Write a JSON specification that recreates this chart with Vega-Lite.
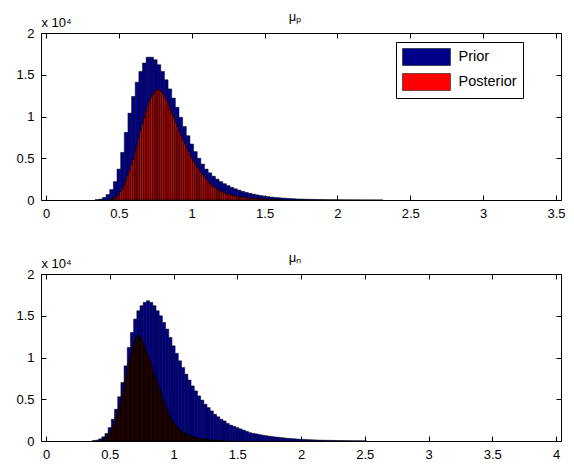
{
  "$schema": "https://vega.github.io/schema/vega-lite/v6.json",
  "background": "white",
  "padding": {"left": 15, "top": 10, "right": 0, "bottom": 0},
  "config": {
    "font": "Liberation Sans",
    "view": {"stroke": "black", "strokeWidth": 1},
    "axis": {"domain": false, "grid": false, "tickColor": "black", "tickSize": -5, "tickWidth": 1, "labelColor": "black", "labelFont": "Liberation Sans", "labelFontSize": 13, "labelFlush": false, "labelOverlap": false, "labelPadding": 12, "format": "~g"},
    "axisX": {"labelPadding": 12},
    "title": {"font": "Liberation Sans", "fontSize": 13, "fontWeight": "normal", "color": "black", "baseline": "alphabetic", "offset": -8, "dx": -6},
    "concat": {"spacing": 30}
  },
  "datasets": {
    "tp": [
      {"x":0.35,"n":40},{"x":0.375,"n":100},{"x":0.4,"n":300},{"x":0.425,"n":650},{"x":0.45,"n":1250},{"x":0.475,"n":2200},{"x":0.5,"n":3700},{"x":0.525,"n":5700},{"x":0.55,"n":8100},{"x":0.575,"n":10400},{"x":0.6,"n":12400},{"x":0.625,"n":14100},{"x":0.65,"n":15400},{"x":0.675,"n":16400},{"x":0.7,"n":17100},{"x":0.725,"n":17100},{"x":0.75,"n":16800},{"x":0.775,"n":16200},{"x":0.8,"n":15400},{"x":0.825,"n":14400},{"x":0.85,"n":13300},{"x":0.875,"n":12200},{"x":0.9,"n":11100},{"x":0.925,"n":9900},{"x":0.95,"n":8800},{"x":0.975,"n":7700},{"x":1.0,"n":6700},{"x":1.025,"n":5800},{"x":1.05,"n":5000},{"x":1.075,"n":4300},{"x":1.1,"n":3700},{"x":1.125,"n":3250},{"x":1.15,"n":2850},{"x":1.175,"n":2500},{"x":1.2,"n":2200},{"x":1.225,"n":1950},{"x":1.25,"n":1720},{"x":1.275,"n":1520},{"x":1.3,"n":1340},{"x":1.325,"n":1180},{"x":1.35,"n":1040},{"x":1.375,"n":910},{"x":1.4,"n":800},{"x":1.425,"n":700},{"x":1.45,"n":610},{"x":1.475,"n":530},{"x":1.5,"n":460},{"x":1.525,"n":400},{"x":1.55,"n":350},{"x":1.575,"n":305},{"x":1.6,"n":265},{"x":1.625,"n":230},{"x":1.65,"n":200},{"x":1.675,"n":175},{"x":1.7,"n":152},{"x":1.725,"n":132},{"x":1.75,"n":115},{"x":1.775,"n":100},{"x":1.8,"n":87},{"x":1.825,"n":76},{"x":1.85,"n":66},{"x":1.875,"n":57},{"x":1.9,"n":50},{"x":1.925,"n":43},{"x":1.95,"n":37},{"x":1.975,"n":32},{"x":2.0,"n":28},{"x":2.025,"n":24},{"x":2.05,"n":21},{"x":2.075,"n":18},{"x":2.1,"n":16},{"x":2.125,"n":14},{"x":2.15,"n":12},{"x":2.175,"n":10},{"x":2.2,"n":9},{"x":2.225,"n":8},{"x":2.25,"n":7},{"x":2.275,"n":6},{"x":2.3,"n":5}
    ],
    "tq": [
      {"x":0.45,"n":80},{"x":0.4625,"n":150},{"x":0.475,"n":280},{"x":0.4875,"n":450},{"x":0.5,"n":700},{"x":0.5125,"n":1000},{"x":0.525,"n":1350},{"x":0.5375,"n":1800},{"x":0.55,"n":2300},{"x":0.5625,"n":2900},{"x":0.575,"n":3500},{"x":0.5875,"n":4200},{"x":0.6,"n":4900},{"x":0.6125,"n":5700},{"x":0.625,"n":6500},{"x":0.6375,"n":7400},{"x":0.65,"n":8300},{"x":0.6625,"n":9100},{"x":0.675,"n":9900},{"x":0.6875,"n":10600},{"x":0.7,"n":11200},{"x":0.7125,"n":11800},{"x":0.725,"n":12300},{"x":0.7375,"n":12700},{"x":0.75,"n":13000},{"x":0.7625,"n":13200},{"x":0.775,"n":13200},{"x":0.7875,"n":13000},{"x":0.8,"n":12700},{"x":0.8125,"n":12300},{"x":0.825,"n":11900},{"x":0.8375,"n":11400},{"x":0.85,"n":10900},{"x":0.8625,"n":10400},{"x":0.875,"n":9900},{"x":0.8875,"n":9300},{"x":0.9,"n":8800},{"x":0.9125,"n":8200},{"x":0.925,"n":7700},{"x":0.9375,"n":7200},{"x":0.95,"n":6700},{"x":0.9625,"n":6200},{"x":0.975,"n":5800},{"x":0.9875,"n":5400},{"x":1.0,"n":5000},{"x":1.0125,"n":4600},{"x":1.025,"n":4250},{"x":1.0375,"n":3900},{"x":1.05,"n":3600},{"x":1.0625,"n":3300},{"x":1.075,"n":3000},{"x":1.0875,"n":2700},{"x":1.1,"n":2450},{"x":1.1125,"n":2200},{"x":1.125,"n":1980},{"x":1.1375,"n":1780},{"x":1.15,"n":1600},{"x":1.1625,"n":1440},{"x":1.175,"n":1300},{"x":1.1875,"n":1170},{"x":1.2,"n":1050},{"x":1.2125,"n":950},{"x":1.225,"n":860},{"x":1.2375,"n":780},{"x":1.25,"n":710},{"x":1.2625,"n":645},{"x":1.275,"n":585},{"x":1.2875,"n":530},{"x":1.3,"n":480},{"x":1.3125,"n":435},{"x":1.325,"n":395},{"x":1.3375,"n":360},{"x":1.35,"n":325},{"x":1.3625,"n":295},{"x":1.375,"n":268},{"x":1.3875,"n":243},{"x":1.4,"n":220},{"x":1.4125,"n":200},{"x":1.425,"n":182},{"x":1.4375,"n":165},{"x":1.45,"n":150},{"x":1.4625,"n":136},{"x":1.475,"n":124},{"x":1.4875,"n":112},{"x":1.5,"n":102},{"x":1.5125,"n":93},{"x":1.525,"n":84},{"x":1.5375,"n":76},{"x":1.55,"n":69},{"x":1.5625,"n":63},{"x":1.575,"n":57},{"x":1.5875,"n":52},{"x":1.6,"n":47}
    ],
    "bp": [
      {"x":0.375,"n":50},{"x":0.4,"n":100},{"x":0.425,"n":250},{"x":0.45,"n":500},{"x":0.475,"n":900},{"x":0.5,"n":1600},{"x":0.525,"n":2600},{"x":0.55,"n":3800},{"x":0.575,"n":5300},{"x":0.6,"n":7000},{"x":0.625,"n":9000},{"x":0.65,"n":11200},{"x":0.675,"n":13000},{"x":0.7,"n":14600},{"x":0.725,"n":15600},{"x":0.75,"n":16200},{"x":0.775,"n":16600},{"x":0.8,"n":16800},{"x":0.825,"n":16600},{"x":0.85,"n":16200},{"x":0.875,"n":15600},{"x":0.9,"n":15000},{"x":0.925,"n":14200},{"x":0.95,"n":13400},{"x":0.975,"n":12400},{"x":1.0,"n":11400},{"x":1.025,"n":10500},{"x":1.05,"n":9600},{"x":1.075,"n":8800},{"x":1.1,"n":8000},{"x":1.125,"n":7300},{"x":1.15,"n":6600},{"x":1.175,"n":6000},{"x":1.2,"n":5400},{"x":1.225,"n":4900},{"x":1.25,"n":4400},{"x":1.275,"n":4000},{"x":1.3,"n":3600},{"x":1.325,"n":3200},{"x":1.35,"n":2900},{"x":1.375,"n":2600},{"x":1.4,"n":2400},{"x":1.425,"n":2100},{"x":1.45,"n":1900},{"x":1.475,"n":1750},{"x":1.5,"n":1600},{"x":1.525,"n":1450},{"x":1.55,"n":1300},{"x":1.575,"n":1150},{"x":1.6,"n":1000},{"x":1.625,"n":920},{"x":1.65,"n":850},{"x":1.675,"n":770},{"x":1.7,"n":700},{"x":1.725,"n":640},{"x":1.75,"n":580},{"x":1.775,"n":530},{"x":1.8,"n":480},{"x":1.825,"n":440},{"x":1.85,"n":400},{"x":1.875,"n":360},{"x":1.9,"n":320},{"x":1.925,"n":290},{"x":1.95,"n":260},{"x":1.975,"n":230},{"x":2.0,"n":210},{"x":2.025,"n":190},{"x":2.05,"n":170},{"x":2.075,"n":150},{"x":2.1,"n":135},{"x":2.125,"n":120},{"x":2.15,"n":108},{"x":2.175,"n":97},{"x":2.2,"n":87},{"x":2.225,"n":78},{"x":2.25,"n":70},{"x":2.275,"n":62},{"x":2.3,"n":55},{"x":2.325,"n":49},{"x":2.35,"n":44},{"x":2.375,"n":39},{"x":2.4,"n":35},{"x":2.425,"n":31},{"x":2.45,"n":28},{"x":2.475,"n":25},{"x":2.5,"n":22}
    ],
    "bq": [
      {"x":0.44,"n":100},{"x":0.45,"n":200},{"x":0.46,"n":300},{"x":0.47,"n":450},{"x":0.48,"n":600},{"x":0.49,"n":800},{"x":0.5,"n":1000},{"x":0.51,"n":1300},{"x":0.52,"n":1600},{"x":0.53,"n":1950},{"x":0.54,"n":2300},{"x":0.55,"n":2750},{"x":0.56,"n":3200},{"x":0.57,"n":3750},{"x":0.58,"n":4300},{"x":0.59,"n":4950},{"x":0.6,"n":5600},{"x":0.61,"n":6300},{"x":0.62,"n":7000},{"x":0.63,"n":7800},{"x":0.64,"n":8600},{"x":0.65,"n":9300},{"x":0.66,"n":10000},{"x":0.67,"n":10600},{"x":0.68,"n":11200},{"x":0.69,"n":11700},{"x":0.7,"n":12100},{"x":0.71,"n":12400},{"x":0.72,"n":12600},{"x":0.73,"n":12550},{"x":0.74,"n":12400},{"x":0.75,"n":12100},{"x":0.76,"n":11800},{"x":0.77,"n":11400},{"x":0.78,"n":11000},{"x":0.79,"n":10600},{"x":0.8,"n":10200},{"x":0.81,"n":9750},{"x":0.82,"n":9300},{"x":0.83,"n":8850},{"x":0.84,"n":8400},{"x":0.85,"n":7950},{"x":0.86,"n":7500},{"x":0.87,"n":7050},{"x":0.88,"n":6600},{"x":0.89,"n":6150},{"x":0.9,"n":5700},{"x":0.91,"n":5300},{"x":0.92,"n":4900},{"x":0.93,"n":4500},{"x":0.94,"n":4100},{"x":0.95,"n":3700},{"x":0.96,"n":3300},{"x":0.97,"n":3000},{"x":0.98,"n":2700},{"x":0.99,"n":2400},{"x":1.0,"n":2150},{"x":1.01,"n":1950},{"x":1.02,"n":1750},{"x":1.03,"n":1600},{"x":1.04,"n":1450},{"x":1.05,"n":1320},{"x":1.06,"n":1200},{"x":1.07,"n":1080},{"x":1.08,"n":980},{"x":1.09,"n":890},{"x":1.1,"n":800},{"x":1.11,"n":720},{"x":1.12,"n":650},{"x":1.13,"n":590},{"x":1.14,"n":530},{"x":1.15,"n":480},{"x":1.16,"n":430},{"x":1.17,"n":390},{"x":1.18,"n":350},{"x":1.19,"n":315},{"x":1.2,"n":285},{"x":1.21,"n":255},{"x":1.22,"n":230},{"x":1.23,"n":205},{"x":1.24,"n":185},{"x":1.25,"n":165},{"x":1.26,"n":150},{"x":1.27,"n":135},{"x":1.28,"n":120},{"x":1.29,"n":108},{"x":1.3,"n":97},{"x":1.31,"n":87},{"x":1.32,"n":78},{"x":1.33,"n":70},{"x":1.34,"n":63},{"x":1.35,"n":56},{"x":1.36,"n":50},{"x":1.37,"n":45},{"x":1.38,"n":40},{"x":1.39,"n":36},{"x":1.4,"n":32}
    ]
  },
  "resolve": {"scale": {"x": "independent", "y": "independent", "color": "independent"}, "legend": {"color": "independent"}},
  "vconcat": [
    {
      "width": 520,
      "height": 167,
      "title": {"text": "μₚ"},
      "resolve": {"axis": {"x": "independent", "y": "independent"}},
      "layer": [
        {
          "data": {"name": "tp"},
          "mark": {"type": "bar", "orient": "vertical", "width": 3.7, "stroke": "black", "strokeWidth": 0.5, "fillOpacity": 1},
          "encoding": {
            "x": {"field": "x", "type": "quantitative", "scale": {"domain": [0, 3.5], "nice": false, "zero": false}, "axis": {"orient": "bottom", "title": null, "values": [0, 0.5, 1, 1.5, 2, 2.5, 3, 3.5]}},
            "y": {"field": "n", "type": "quantitative", "scale": {"domain": [0, 20000], "nice": false}, "axis": {"orient": "left", "values": [0, 5000, 10000, 15000, 20000], "labelExpr": "datum.value / 10000", "title": "x 10⁴", "titleAngle": 0, "titleAlign": "left", "titleBaseline": "alphabetic", "titleX": 0, "titleY": -7, "titleFontSize": 13, "titleFontWeight": "normal", "titleColor": "black", "titleFont": "Liberation Sans"}},
            "color": {"datum": "Prior", "type": "nominal", "scale": {"domain": ["Prior", "Posterior"], "range": ["#000088", "#FF0000"]},
              "legend": {"title": null, "orient": "none", "legendX": 355, "legendY": 9, "direction": "vertical", "strokeColor": "black", "fillColor": "white", "padding": 6, "symbolType": "M-2.82,-1H2.82V1H-2.82Z", "symbolSize": 289, "symbolStrokeColor": "black", "symbolStrokeWidth": 0.5, "symbolOpacity": 1, "symbolOffset": 15.5, "labelOffset": 23, "labelFontSize": 14.5, "labelFont": "Liberation Sans", "labelColor": "black", "rowPadding": 5}}
          }
        },
        {
          "data": {"name": "tq"},
          "mark": {"type": "bar", "orient": "vertical", "width": 1.86, "stroke": "black", "strokeWidth": 0.8, "fillOpacity": 1},
          "encoding": {
            "x": {"field": "x", "type": "quantitative", "scale": {"domain": [0, 3.5], "nice": false, "zero": false}, "axis": {"orient": "top", "title": null, "labels": false, "values": [0, 0.5, 1, 1.5, 2, 2.5, 3, 3.5]}},
            "y": {"field": "n", "type": "quantitative", "scale": {"domain": [0, 20000], "nice": false}, "axis": {"orient": "right", "title": null, "labels": false, "values": [0, 5000, 10000, 15000, 20000]}},
            "color": {"datum": "Posterior", "type": "nominal"}
          }
        }
      ]
    },
    {
      "width": 520,
      "height": 167,
      "title": {"text": "μₙ"},
      "resolve": {"axis": {"x": "independent", "y": "independent"}},
      "layer": [
        {
          "data": {"name": "bp"},
          "mark": {"type": "bar", "orient": "vertical", "width": 3.25, "fill": "#000088", "stroke": "black", "strokeWidth": 0.5, "fillOpacity": 1},
          "encoding": {
            "x": {"field": "x", "type": "quantitative", "scale": {"domain": [0, 4], "nice": false, "zero": false}, "axis": {"orient": "bottom", "title": null, "values": [0, 0.5, 1, 1.5, 2, 2.5, 3, 3.5, 4]}},
            "y": {"field": "n", "type": "quantitative", "scale": {"domain": [0, 20000], "nice": false}, "axis": {"orient": "left", "values": [0, 5000, 10000, 15000, 20000], "labelExpr": "datum.value / 10000", "title": "x 10⁴", "titleAngle": 0, "titleAlign": "left", "titleBaseline": "alphabetic", "titleX": 0, "titleY": -7, "titleFontSize": 13, "titleFontWeight": "normal", "titleColor": "black", "titleFont": "Liberation Sans"}}
          }
        },
        {
          "data": {"name": "bq"},
          "mark": {"type": "bar", "orient": "vertical", "width": 1.3, "fill": "#FF0000", "stroke": "black", "strokeWidth": 1.1, "fillOpacity": 1},
          "encoding": {
            "x": {"field": "x", "type": "quantitative", "scale": {"domain": [0, 4], "nice": false, "zero": false}, "axis": {"orient": "top", "title": null, "labels": false, "values": [0, 0.5, 1, 1.5, 2, 2.5, 3, 3.5, 4]}},
            "y": {"field": "n", "type": "quantitative", "scale": {"domain": [0, 20000], "nice": false}, "axis": {"orient": "right", "title": null, "labels": false, "values": [0, 5000, 10000, 15000, 20000]}}
          }
        }
      ]
    }
  ]
}
